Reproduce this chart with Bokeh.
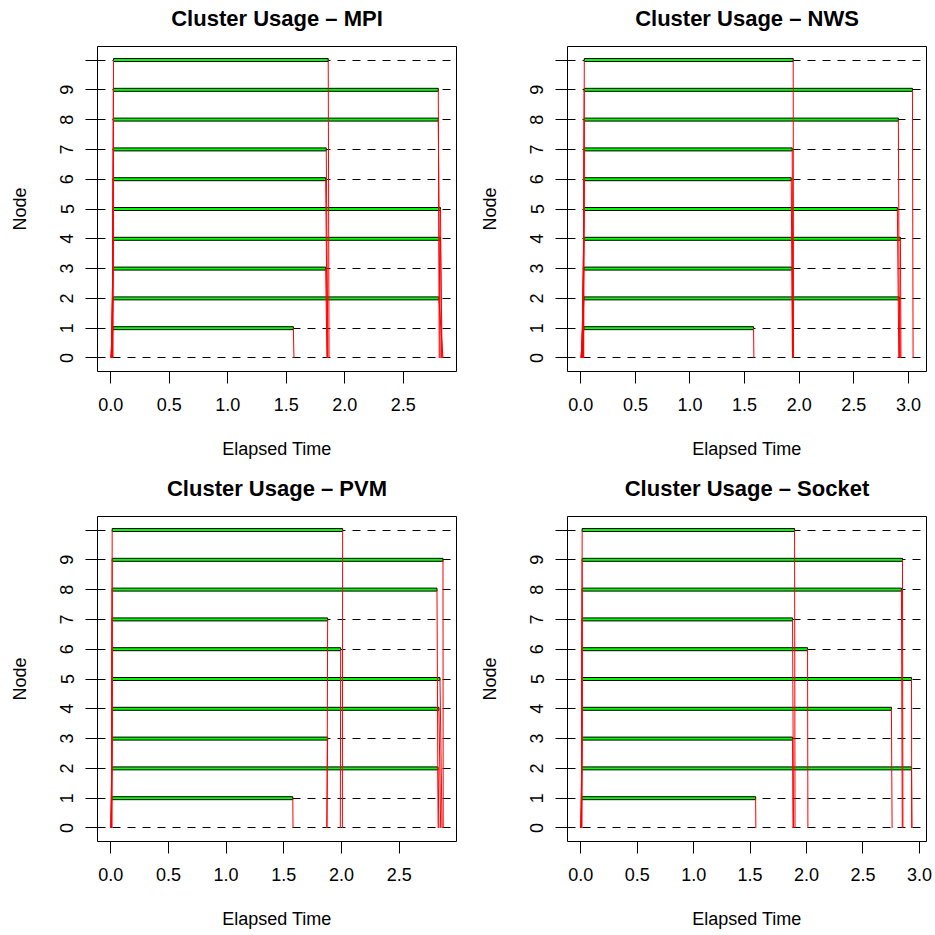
from bokeh.plotting import figure
from bokeh.layouts import column, row
from bokeh.models import Range1d, FixedTicker, NumeralTickFormatter, LinearAxis
from bokeh.embed import file_html
from bokeh.resources import INLINE

# ---------------- data ----------------
nodes = [1, 2, 3, 4, 5, 6, 7, 8, 9, 10]
levels = [0, 1, 2, 3, 4, 5, 6, 7, 8, 9, 10]
y_tick_labels = {10: ""}

# MPI
mpi_elapsed = 2.842
mpi_send_start = [0.000, 0.002, 0.004, 0.006, 0.008, 0.010, 0.012, 0.014, 0.016, 0.018]
mpi_work_start = [0.019, 0.020, 0.020, 0.021, 0.021, 0.021, 0.022, 0.022, 0.022, 0.023]
mpi_work_end = [1.561, 2.805, 1.837, 2.819, 2.819, 1.837, 1.842, 2.800, 2.800, 1.859]
mpi_recv_end = [1.566, 2.840, 1.848, 2.833, 2.827, 1.852, 1.856, 2.816, 2.808, 1.866]
mpi_xticks = [0.0, 0.5, 1.0, 1.5, 2.0, 2.5]

# NWS
nws_elapsed = 3.044
nws_send_start = [0.000, 0.003, 0.006, 0.009, 0.012, 0.015, 0.018, 0.021, 0.024, 0.027]
nws_work_start = [0.028, 0.029, 0.029, 0.030, 0.030, 0.030, 0.031, 0.031, 0.031, 0.032]
nws_work_end = [1.582, 2.918, 1.936, 2.927, 2.899, 1.927, 1.936, 2.908, 3.037, 1.945]
nws_recv_end = [1.585, 2.925, 1.940, 2.932, 2.912, 1.938, 1.942, 2.918, 3.043, 1.948]
nws_xticks = [0.0, 0.5, 1.0, 1.5, 2.0, 2.5, 3.0]

# PVM
pvm_elapsed = 2.882
pvm_send_start = [0.000, 0.001, 0.002, 0.003, 0.004, 0.005, 0.006, 0.007, 0.008, 0.009]
pvm_work_start = [0.009, 0.010, 0.010, 0.010, 0.011, 0.011, 0.011, 0.012, 0.012, 0.012]
pvm_work_end = [1.578, 2.837, 1.880, 2.845, 2.854, 1.993, 1.880, 2.828, 2.880, 2.010]
pvm_recv_end = [1.580, 2.845, 1.872, 2.860, 2.872, 1.990, 1.875, 2.838, 2.882, 2.008]
pvm_xticks = [0.0, 0.5, 1.0, 1.5, 2.0, 2.5]

# Socket
sock_elapsed = 2.945
sock_send_start = [0.000, 0.001, 0.002, 0.003, 0.004, 0.005, 0.006, 0.007, 0.008, 0.009]
sock_work_start = [0.009, 0.010, 0.010, 0.010, 0.011, 0.011, 0.011, 0.012, 0.012, 0.012]
sock_work_end = [1.549, 2.930, 1.876, 2.752, 2.930, 2.009, 1.876, 2.841, 2.850, 1.894]
sock_recv_end = [1.551, 2.934, 1.880, 2.758, 2.932, 2.012, 1.885, 2.848, 2.854, 1.898]
sock_xticks = [0.0, 0.5, 1.0, 1.5, 2.0, 2.5, 3.0]

FONT = "Liberation Sans"
HALF = 0.05
FRAME_W = 359
FRAME_H = 325


def make_panel(name, elapsed, send_start, work_start, work_end, recv_end, xticks,
               bl, br, bt, bb):
    ylo, yhi = -HALF, len(nodes) + HALF
    ypad = 0.04 * (yhi - ylo)
    p = figure(frame_width=FRAME_W, frame_height=FRAME_H,
               output_backend="svg", toolbar_location=None,
               x_range=Range1d(-0.04 * elapsed, 1.04 * elapsed),
               y_range=Range1d(ylo - ypad, yhi + ypad),
               min_border_left=bl, min_border_right=br,
               min_border_top=bt, min_border_bottom=bb,
               x_axis_label="Elapsed Time", y_axis_label="Node")
    p.grid.visible = False
    p.outline_line_color = "black"
    p.outline_line_width = 1
    p.outline_line_alpha = 1
    p.background_fill_color = "white"
    p.border_fill_color = "white"

    xax = p.below[0]
    yax = p.left[0]

    for ax in (xax, yax):
        ax.axis_line_color = None
        ax.major_tick_out = 12
        ax.major_tick_in = 0
        ax.major_tick_line_color = "black"
        ax.minor_tick_line_color = None
        ax.major_label_text_font = FONT
        ax.major_label_text_font_size = "18px"
        ax.major_label_text_color = "black"
        ax.axis_label_text_font = FONT
        ax.axis_label_text_font_size = "18px"
        ax.axis_label_text_font_style = "normal"
        ax.axis_label_text_color = "black"

    xax.ticker = FixedTicker(ticks=xticks)
    xax.formatter = NumeralTickFormatter(format="0.0")
    xax.major_label_standoff = 14
    xax.axis_label_standoff = 25

    yax.ticker = FixedTicker(ticks=levels)
    yax.major_label_overrides = y_tick_labels
    yax.major_label_orientation = "vertical"
    yax.major_label_standoff = 12
    yax.axis_label_standoff = 28

    # title drawn as the label of a tick-less axis above the frame
    top = LinearAxis(ticker=FixedTicker(ticks=[]), axis_label="Cluster Usage \u2013 " + name)
    top.axis_line_color = None
    top.major_tick_out = 0
    top.major_tick_in = 0
    top.minor_tick_out = 0
    top.minor_tick_in = 0
    top.major_tick_line_color = None
    top.minor_tick_line_color = None
    top.major_label_standoff = 0
    top.major_label_text_font_size = "0px"
    top.axis_label_standoff = 16
    top.axis_label_text_font = FONT
    top.axis_label_text_font_size = "22px"
    top.axis_label_text_font_style = "bold"
    top.axis_label_text_color = "black"
    p.add_layout(top, "above")

    # dashed node lines
    p.hspan(y=levels, line_color="black", line_dash="8 7", line_width=1)

    # compute bars
    p.quad(left=work_start, right=work_end,
           bottom=[n - HALF for n in nodes], top=[n + HALF for n in nodes],
           fill_color="#00ff00", line_color="black", line_width=1)

    # communication lines
    zeros = [0] * len(nodes)
    p.segment(x0=send_start, y0=zeros, x1=work_start, y1=nodes,
              line_color="#ff0000", line_width=1)
    p.segment(x0=work_end, y0=nodes, x1=recv_end, y1=zeros,
              line_color="#ff0000", line_width=1)
    return p


p1 = make_panel("MPI", mpi_elapsed, mpi_send_start, mpi_work_start, mpi_work_end,
                mpi_recv_end, mpi_xticks, 97, 11, 46, 96)
p2 = make_panel("NWS", nws_elapsed, nws_send_start, nws_work_start, nws_work_end,
                nws_recv_end, nws_xticks, 100, 8, 46, 96)
p3 = make_panel("PVM", pvm_elapsed, pvm_send_start, pvm_work_start, pvm_work_end,
                pvm_recv_end, pvm_xticks, 97, 11, 49, 92)
p4 = make_panel("Socket", sock_elapsed, sock_send_start, sock_work_start, sock_work_end,
                sock_recv_end, sock_xticks, 100, 8, 49, 92)

layout = column(row(p1, p2), row(p3, p4))

open("out.html", "w").write(file_html(layout, INLINE))
